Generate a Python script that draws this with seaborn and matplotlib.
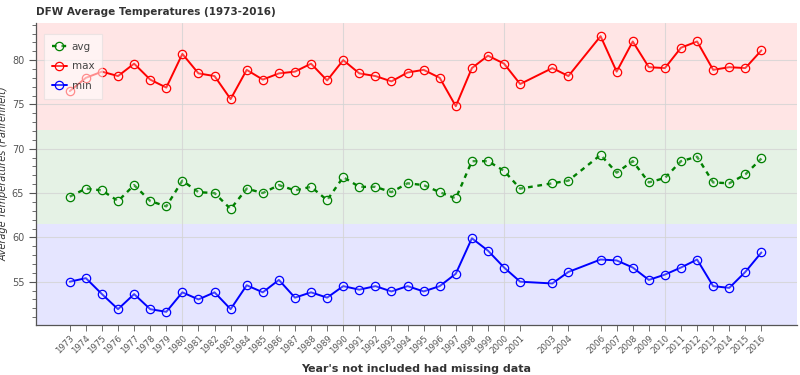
import matplotlib
matplotlib.use('Agg')
import matplotlib.pyplot as plt
import seaborn as sns
import numpy as np
import pandas as pd
from matplotlib.ticker import MultipleLocator

years = list(range(1973, 2002)) + [2003, 2004] + list(range(2006, 2017))

max_temp = [76.5, 78.0, 78.7, 78.2, 79.6, 77.8, 76.9, 80.7, 78.5, 78.2,
            75.6, 78.9, 77.8, 78.5, 78.7, 79.6, 77.7, 80.0, 78.5, 78.2,
            77.6, 78.6, 78.9, 78.0, 74.8, 79.1, 80.5, 79.6, 77.3,
            79.1, 78.2,
            82.7, 78.7, 82.1, 79.2, 79.1, 81.4, 82.1, 78.9, 79.2, 79.1, 81.1]

avg_temp = [64.6, 65.5, 65.3, 64.1, 65.9, 64.1, 63.5, 66.4, 65.1, 65.0,
            63.2, 65.5, 65.0, 65.9, 65.3, 65.7, 64.2, 66.8, 65.7, 65.7,
            65.1, 66.1, 65.9, 65.1, 64.4, 68.6, 68.6, 67.5, 65.5,
            66.1, 66.4,
            69.3, 67.3, 68.6, 66.2, 66.7, 68.6, 69.1, 66.2, 66.1, 67.1, 68.9]

min_temp = [55.0, 55.4, 53.6, 51.9, 53.6, 51.9, 51.6, 53.8, 53.0, 53.8,
            51.9, 54.6, 53.8, 55.2, 53.2, 53.8, 53.2, 54.5, 54.1, 54.5,
            53.9, 54.5, 53.9, 54.5, 55.9, 59.9, 58.5, 56.6, 55.0,
            54.8, 56.1,
            57.5, 57.4, 56.6, 55.2, 55.8, 56.6, 57.5, 54.5, 54.3, 56.1, 58.3]

df = pd.DataFrame({'year': years, 'avg': avg_temp, 'max': max_temp, 'min': min_temp})

sns.set_style('white')
plt.rcParams['font.family'] = ['DejaVu Sans']

fig = plt.figure(figsize=(8, 3.75), dpi=100)
ax = fig.add_axes([0.045, 0.133, 0.951, 0.806])

# background bands
ax.axhspan(72.1, 90, color='red', alpha=0.1, lw=0, zorder=0)
ax.axhspan(61.5, 72.1, color='green', alpha=0.1, lw=0, zorder=0)
ax.axhspan(40, 61.5, color='blue', alpha=0.1, lw=0, zorder=0)

# grid
for v in [55, 60, 65, 70, 75, 80]:
    ax.axhline(v, color='#d4d4d4', lw=0.8, alpha=0.8, zorder=1)
for v in [1980, 1990, 2000, 2010]:
    ax.axvline(v, color='#d4d4d4', lw=0.8, alpha=0.8, zorder=1)

series = [('avg', 'green', (0, (2, 2)), 1.7),
          ('max', 'red', '-', 1.4),
          ('min', 'blue', '-', 1.4)]
for name, col, ls, lw in series:
    sns.lineplot(data=df, x='year', y=name, ax=ax, color=col, lw=lw,
                 linestyle=ls, label=name, zorder=3, marker='o', markersize=6,
                 markerfacecolor=(1, 1, 1, 0.25), markeredgecolor=col,
                 markeredgewidth=0.9)

ax.set_xlim(1970.9, 2018.2)
ax.set_ylim(50.1, 84.2)

ax.set_xticks(years)
ax.set_xticklabels([str(y) for y in years], rotation=45, ha='right',
                   rotation_mode='anchor', fontsize=6.2, color='#555555')
ax.set_yticks([55, 60, 65, 70, 75, 80])
ax.yaxis.set_minor_locator(MultipleLocator(1))
ax.tick_params(axis='y', which='major', labelsize=7, labelcolor='#555555',
               length=5, width=0.8, color='#555555', left=True, direction='out')
ax.tick_params(axis='y', which='minor', length=3, width=0.6, color='#555555', left=True)
ax.tick_params(axis='x', which='major', length=4, width=0.6, color='#555555',
               bottom=True, direction='out', pad=2)

for s in ['top', 'right']:
    ax.spines[s].set_visible(False)
for s in ['left', 'bottom']:
    ax.spines[s].set_color('#555555')
    ax.spines[s].set_linewidth(0.9)

ax.set_title('DFW Average Temperatures (1973-2016)', loc='left', fontsize=7.5,
             fontweight='bold', color='#333333', pad=6)
ax.set_ylabel('Average Temperatures (Fahrenheit)', fontsize=7, style='italic',
              color='#333333', labelpad=2)
ax.set_xlabel("Year's not included had missing data", fontsize=8,
              fontweight='bold', color='#333333', labelpad=6)

leg = ax.legend(loc='upper left', bbox_to_anchor=(0.004, 0.98), fontsize=7.5,
                frameon=True, framealpha=0.55, edgecolor='#dddddd', fancybox=False,
                labelspacing=0.9, handlelength=1.4, handletextpad=0.5, borderpad=0.75)
leg.get_frame().set_linewidth(0.8)
for t in leg.get_texts():
    t.set_color('#444444')

fig.savefig('out.png', dpi=100)
